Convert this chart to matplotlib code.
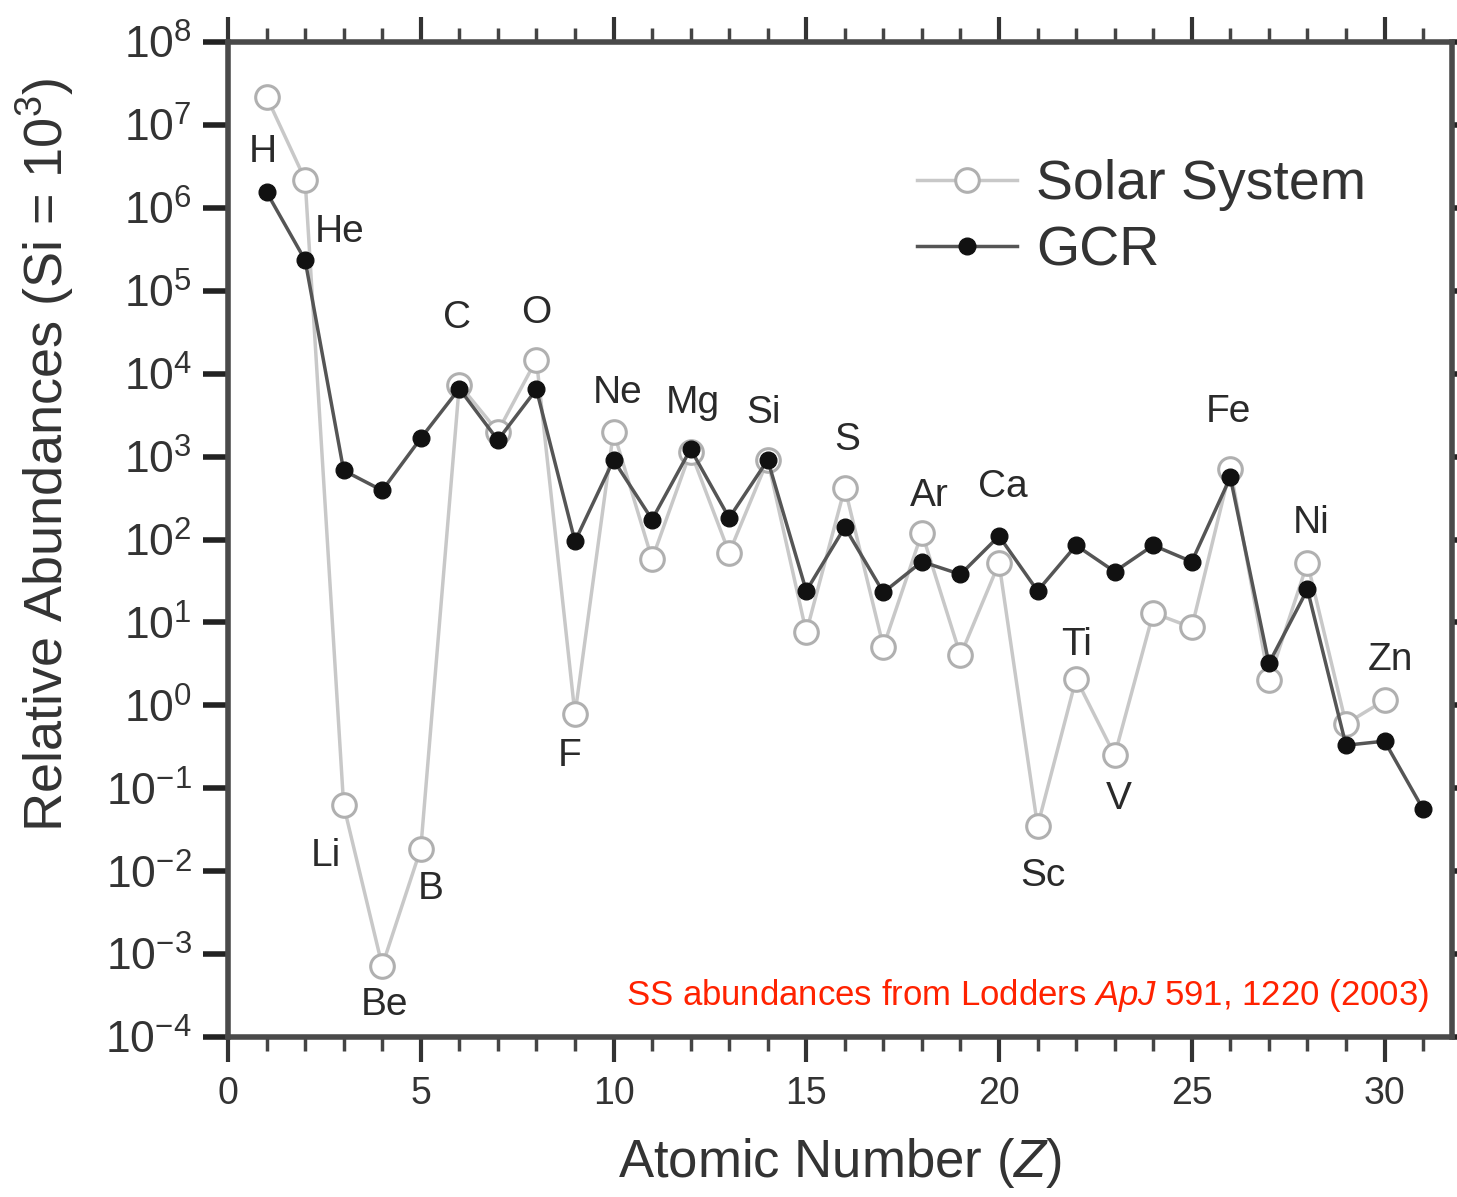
import numpy as np
import matplotlib.pyplot as plt
from matplotlib.ticker import FixedLocator, MultipleLocator, FuncFormatter

plt.rcParams['font.family'] = ['Liberation Sans', 'DejaVu Sans']
plt.rcParams['mathtext.fontset'] = 'custom'
plt.rcParams['mathtext.rm'] = 'Liberation Sans'
plt.rcParams['mathtext.it'] = 'Liberation Sans:italic'

# abundances relative to Si, read per element
ss_z = np.arange(1, 31)
ss_abund = [2.19e7, 2.19e6, 0.062, 7.2e-4, 0.0186, 7400, 2000, 14800, 0.78, 2000,
            58, 1150, 69, 910, 7.6, 420, 5.1, 120, 4.0, 52,
            0.035, 2.1, 0.25, 13, 8.7, 710, 2.0, 52, 0.60, 1.15]

gcr_z = np.arange(1, 32)
gcr_abund = [1.55e6, 2.34e5, 680, 390, 1660, 6600, 1580, 6460, 95, 910,
             174, 1230, 182, 910, 24, 141, 23, 54, 38, 110,
             24, 85, 41, 85, 54, 562, 3.2, 25, 0.33, 0.37, 0.056]

# element names and where their labels sit (Z, log10 abundance)
elem_names = ['H', 'He', 'Li', 'Be', 'B', 'C', 'O', 'F', 'Ne', 'Mg', 'Si', 'S',
              'Ar', 'Ca', 'Sc', 'Ti', 'V', 'Fe', 'Ni', 'Zn']
elem_x = [0.9, 2.9, 2.55, 4.05, 5.25, 5.95, 8.0, 8.85, 10.1, 12.05, 13.9, 16.05,
          18.2, 20.1, 21.15, 22.0, 23.1, 25.95, 28.1, 30.15]
elem_logy = [6.67, 5.71, -1.82, -3.62, -2.22, 4.67, 4.73, -0.61, 3.77, 3.65, 3.53, 3.20,
             2.52, 2.63, -2.06, 0.73, -1.13, 3.54, 2.20, 0.55]

fig = plt.figure(figsize=(14.57, 11.97), dpi=100)
ax = fig.add_axes([228 / 1457, 1 - 1037 / 1197, 1224 / 1457, 995 / 1197])

ax.plot(ss_z, ss_abund, '-o', color='#c8c8c8', lw=2.5, mfc='white', mec='#b0b0b0',
        mew=2.2, ms=17, label='Solar System', zorder=2)
ax.plot(gcr_z, gcr_abund, '-o', color='#555555', lw=2.5, mfc='#111111', mec='#111111',
        ms=12, label='GCR', zorder=3)

for name, x, ly in zip(elem_names, elem_x, elem_logy):
    ax.text(x, 10 ** ly, name, fontsize=28, color='#2a2a2a', ha='center', va='center', zorder=4)

ax.set_yscale('log')
ax.set_xlim(0, 31.75)
ax.set_ylim(1e-4, 1e8)

ax.yaxis.set_major_locator(FixedLocator([10.0 ** k for k in range(-4, 9)]))
ax.yaxis.set_minor_locator(FixedLocator([]))
ax.yaxis.set_major_formatter(FuncFormatter(lambda v, p: r'$10^{%d}$' % round(np.log10(v))))
ax.xaxis.set_major_locator(MultipleLocator(5))
ax.xaxis.set_minor_locator(MultipleLocator(1))

ax.tick_params(axis='y', which='major', direction='out', length=18, width=4,
               labelsize=32, colors='#222222', labelcolor='#333333', pad=8, right=True)
ax.tick_params(axis='x', which='major', direction='out', length=18, width=3,
               labelsize=27, colors='#333333', labelcolor='#333333', pad=10, top=True)
ax.tick_params(axis='x', which='minor', direction='out', length=10, width=2.5,
               colors='#444444', top=True)
for side in ['left', 'right', 'top', 'bottom']:
    ax.spines[side].set_linewidth(4)
    ax.spines[side].set_color('#4a4a4a')

ax.set_xlabel('Atomic Number ($\\it{Z}$)', fontsize=38, color='#333333')
ax.xaxis.set_label_coords(0.5, -0.1)
ax.set_ylabel('Relative Abundances (Si = 10$^3$)', fontsize=39, color='#333333')
ax.yaxis.set_label_coords(-0.124, 0.585)

leg = ax.legend(loc='upper left', bbox_to_anchor=(0.54, 0.91), frameon=False,
                fontsize=40, handlelength=1.8, handletextpad=0.35, labelspacing=0.25,
                borderpad=0)
for t in leg.get_texts():
    t.set_color('#333333')

ax.text(0.981, 0.042, 'SS abundances from Lodders $\\it{ApJ}$ 591, 1220 (2003)',
        transform=ax.transAxes, ha='right', va='center', fontsize=25, color='#ff2200')

plt.savefig('out.png', dpi=100)
plt.close(fig)
